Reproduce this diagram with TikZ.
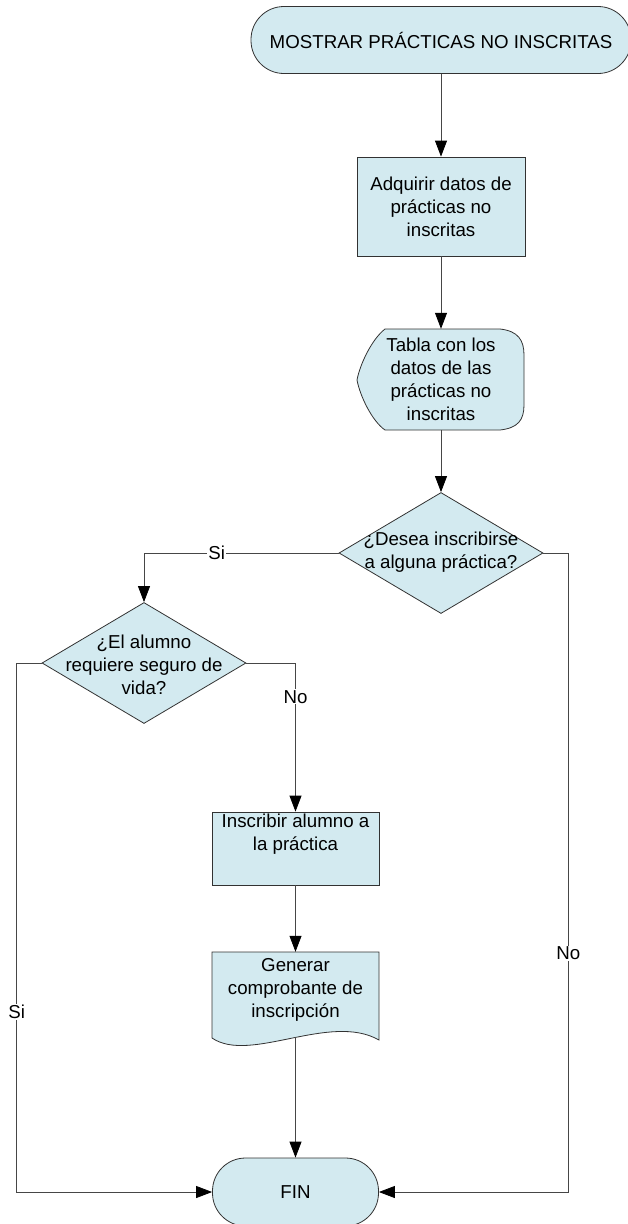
\documentclass[tikz,border=0pt]{standalone}
\usepackage{fontspec}
\setmainfont{Liberation Sans}
\usetikzlibrary{shapes.geometric,arrows.meta}
\definecolor{cajon}{RGB}{211,234,240}
\definecolor{borde}{RGB}{50,50,50}
\definecolor{linea}{RGB}{70,70,70}
\begin{document}
\begin{tikzpicture}[x=1pt,y=-1pt,
    every node/.style={font=\fontsize{18.7}{23}\selectfont, align=center},
    terminal/.style={draw=borde, fill=cajon, rectangle, rounded corners=33pt, line width=0.8pt},
    proceso/.style={draw=borde, fill=cajon, rectangle, line width=0.8pt},
    decision/.style={draw=borde, fill=cajon, diamond, minimum width=204pt, minimum height=121pt, inner sep=0pt, line width=0.8pt},
    figura/.style={draw=borde, fill=cajon, line width=0.8pt},
    texto/.style={inner sep=0pt},
    flecha/.style={draw=linea, line width=0.8pt, -{Triangle[length=16pt,width=12pt,color=black]}},
    etiqueta/.style={fill=white, inner sep=1pt}]
    \useasboundingbox (0,0) rectangle (628,1224);

    % inicio
    \node[terminal, minimum width=380pt, minimum height=67pt] (inicio) at (441,40) {MOSTRAR PRÁCTICAS NO INSCRITAS};
    \node[proceso, minimum width=168pt, minimum height=99pt] (adquirir) at (441,206.5) {Adquirir datos de\\prácticas no\\inscritas};

    % tabla (pantalla)
    \draw[figura] (385,329) -- (500,329) .. controls (518,331) and (524,340) .. (524,355) -- (524,405)
        .. controls (524,420) and (518,428) .. (500,430) -- (385,430)
        .. controls (372,421) and (360,396) .. (357,380) .. controls (360,364) and (372,339) .. (385,329) -- cycle;
    \node[texto, minimum width=167pt, minimum height=101pt] (tabla) at (441,379.5) {Tabla con los\\datos de las\\prácticas no\\inscritas};

    % decisiones
    \node[decision] (desea) at (441,553) {};
    \node[texto] (deseaT) at (441,552) {¿Desea inscribirse\\a alguna práctica?};
    \node[decision] (seguro) at (144,663) {};
    \node[texto] (seguroT) at (144,665) {¿El alumno\\requiere seguro de\\vida?};

    \node[proceso, minimum width=167pt, minimum height=73pt] (inscribir) at (295.5,848.5) {};
    \node[texto] (inscribirT) at (295.5,834) {Inscribir alumno a\\la práctica};

    % documento
    \draw[figura] (212,952) -- (379,952) -- (379,1040) .. controls (330,1012) and (250,1064) .. (212,1038) -- cycle;
    \node[texto, minimum width=167pt, minimum height=76pt] (generar) at (295.5,990) {Generar\\comprobante de\\inscripción};
    \coordinate (generarB) at (295.5,1037);

    \node[terminal, minimum width=166pt, minimum height=68pt] (fin) at (295.5,1192) {FIN};

    % flechas
    \draw[flecha] (inicio) -- (adquirir);
    \draw[flecha] (adquirir) -- (tabla);
    \draw[flecha] (tabla) -- (desea);
    \draw[flecha] (desea.west) -| node[etiqueta, pos=0.313] (si1) {Si} (seguro.north);
    \draw[flecha] (desea.east) -- ++(25,0) |- node[etiqueta, pos=0.313] (no1) {No} (fin.east);
    \draw[flecha] (seguro.west) -- ++(-25,0) |- node[etiqueta, pos=0.33] (si2) {Si} (fin.west);
    \draw[flecha] (seguro.east) -| node[etiqueta, pos=0.614] (no2) {No} (inscribir.north);
    \draw[flecha] (inscribir) -- (generar);
    \draw[flecha] (generarB) -- (fin);
\end{tikzpicture}
\end{document}
